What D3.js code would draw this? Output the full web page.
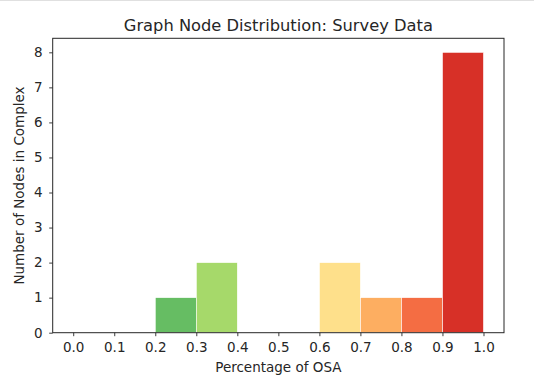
<!DOCTYPE html>
<html>
<head>
<meta charset="utf-8">
<script src="https://cdn.jsdelivr.net/npm/d3@7"></script>
<style>
  body { margin: 0; background: #fff; }
  svg text { font-family: "DejaVu Sans", sans-serif; fill: #262626; }
</style>
</head>
<body>
<div id="chart"></div>
<script>
// histogram bins (left edges) and counts
const binEdges = [0.0, 0.1, 0.2, 0.3, 0.4, 0.5, 0.6, 0.7, 0.8, 0.9];
const counts = [0, 0, 1, 2, 0, 0, 2, 1, 1, 8];
const binColors = ['#1a9850', '#1a9850', '#66bd63', '#a6d96a', '#d9ef8b', '#ffffbf',
  '#fee08b', '#fdae61', '#f46d43', '#d73027'];
const xTicks = [0.0, 0.1, 0.2, 0.3, 0.4, 0.5, 0.6, 0.7, 0.8, 0.9, 1.0];
const yTicks = [0, 1, 2, 3, 4, 5, 6, 7, 8];
const binWidth = 0.1;

const width = 534, height = 391;
const margin = {left: 52.7, right: 30, top: 38.3, bottom: 58.3};

const svg = d3.select('#chart').append('svg')
  .attr('width', width)
  .attr('height', height);

// jupyter output separator line
svg.append('line')
  .attr('x1', 0).attr('x2', width)
  .attr('y1', 0.5).attr('y2', 0.5)
  .attr('stroke', '#e0e0e0').attr('stroke-width', 1);

const x = d3.scaleLinear()
  .domain([-0.05, 1.05])
  .range([margin.left, width - margin.right]);

const y = d3.scaleLinear()
  .domain([0, 8.4])
  .range([height - margin.bottom, margin.top]);

// bars
svg.append('g')
  .selectAll('rect')
  .data(counts)
  .enter()
  .append('rect')
    .attr('x', (d, i) => x(binEdges[i]))
    .attr('width', x(binWidth) - x(0))
    .attr('y', d => y(d))
    .attr('height', d => y(0) - y(d))
    .attr('fill', (d, i) => binColors[i])
    .attr('stroke', '#fff')
    .attr('stroke-width', 0.6)
    .attr('opacity', d => d > 0 ? 1 : 0);

// axes
const xAxis = d3.axisBottom(x)
  .tickValues(xTicks)
  .tickFormat(d3.format('.1f'))
  .tickSizeOuter(0)
  .tickSize(3.5)
  .tickPadding(6.5);

const yAxis = d3.axisLeft(y)
  .tickValues(yTicks)
  .tickSizeOuter(0)
  .tickSize(3.5)
  .tickPadding(6.5);

const gx = svg.append('g')
  .attr('transform', 'translate(0,' + (height - margin.bottom) + ')')
  .call(xAxis);
const gy = svg.append('g')
  .attr('transform', 'translate(' + margin.left + ',0)')
  .call(yAxis);

[gx, gy].forEach(g => {
  g.select('.domain').remove();
  g.selectAll('.tick line').attr('stroke', '#262626').attr('stroke-width', 0.9);
  g.selectAll('.tick text').attr('font-size', 13.5).attr('fill', '#262626')
    .style('font-family', '"DejaVu Sans", sans-serif');
});

// frame
svg.append('rect')
  .attr('x', margin.left).attr('y', margin.top)
  .attr('width', width - margin.left - margin.right)
  .attr('height', height - margin.top - margin.bottom)
  .attr('fill', 'none')
  .attr('stroke', '#262626')
  .attr('stroke-width', 1);

// title and labels
svg.append('text')
  .attr('x', (margin.left + width - margin.right) / 2)
  .attr('y', 31)
  .attr('text-anchor', 'middle')
  .attr('font-size', 16.3)
  .text('Graph Node Distribution: Survey Data');

svg.append('text')
  .attr('x', (margin.left + width - margin.right) / 2)
  .attr('y', 372)
  .attr('text-anchor', 'middle')
  .attr('font-size', 13.5)
  .text('Percentage of OSA');

svg.append('text')
  .attr('transform', 'translate(24,' + ((margin.top + height - margin.bottom) / 2) + ') rotate(-90)')
  .attr('text-anchor', 'middle')
  .attr('font-size', 13.5)
  .text('Number of Nodes in Complex');
</script>
</body>
</html>
